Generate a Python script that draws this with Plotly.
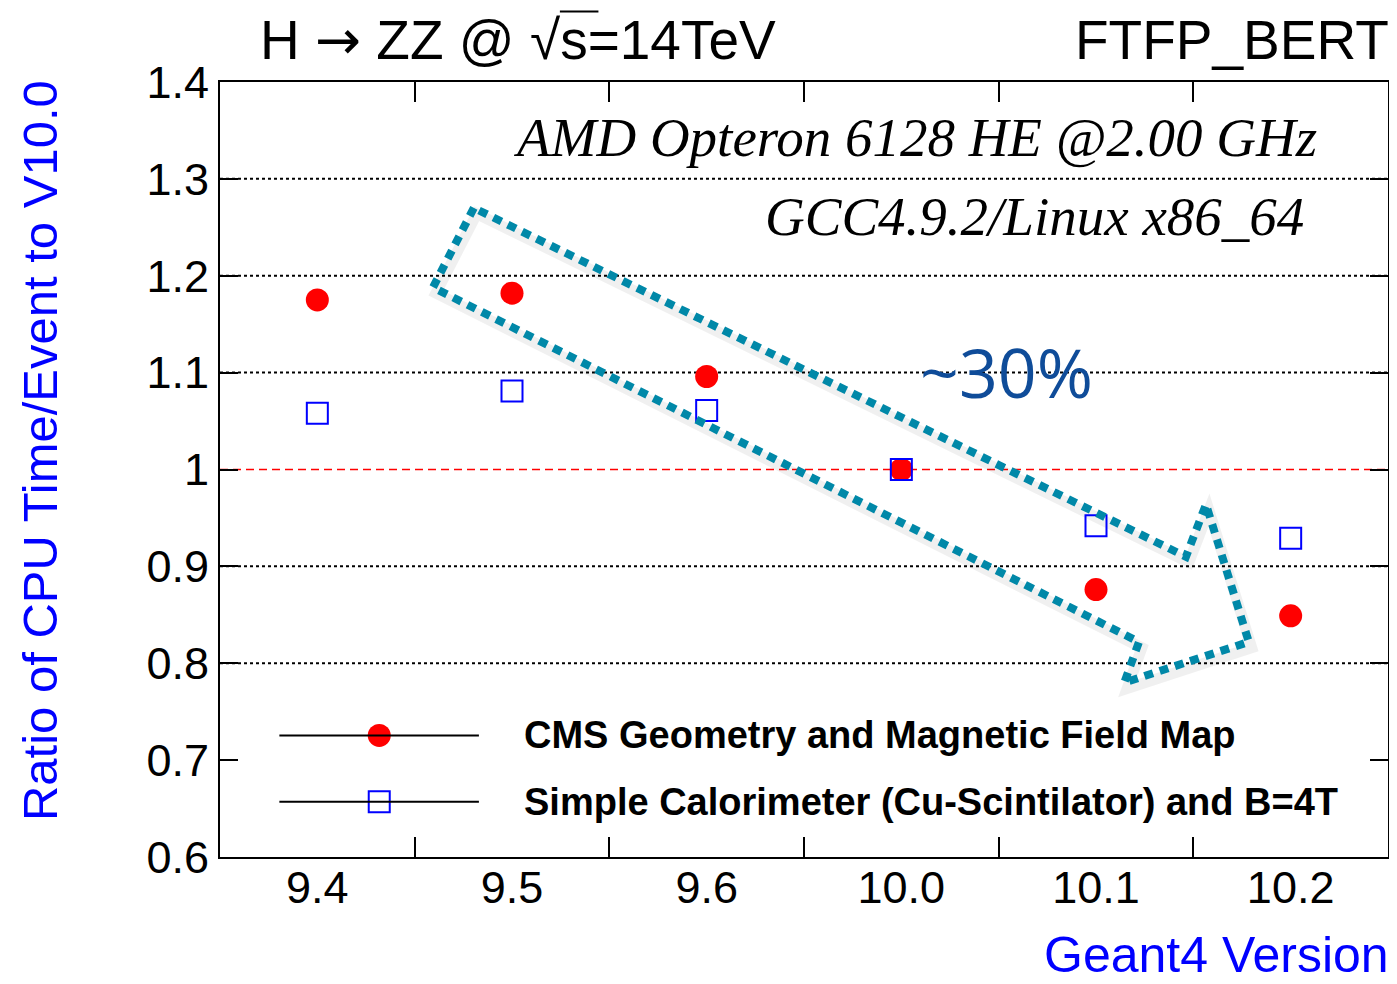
import plotly.graph_objects as go

versions = ["9.4", "9.5", "9.6", "10.0", "10.1", "10.2"]
cms_ratio = [1.175, 1.182, 1.096, 1.000, 0.876, 0.849]
simple_ratio = [1.058, 1.081, 1.061, 1.000, 0.942, 0.929]
y_ticks = [0.6, 0.7, 0.8, 0.9, 1.0, 1.1, 1.2, 1.3, 1.4]
y_tick_text = ["0.6", "0.7", "0.8", "0.9", "1", "1.1", "1.2", "1.3", "1.4"]
grid_levels = [0.8, 0.9, 1.1, 1.2, 1.3]
legend_names = ["CMS Geometry and Magnetic Field Map",
                "Simple Calorimeter (Cu-Scintilator) and B=4T"]

xpos = list(range(len(versions)))
boundaries = [i + 0.5 for i in xpos[:-1]]
SANS = "Liberation Sans, Arial, Helvetica, sans-serif"
SERIF = "Liberation Serif, Times New Roman, serif"

fig = go.Figure()

# Arrow outline (data coords: x in category index, y in ratio)
arrow_x = [0.804, 0.594, 4.221, 4.145, 4.785, 4.565, 4.462]
arrow_y = [1.270, 1.188, 0.822, 0.780, 0.822, 0.964, 0.910]

def path(xs, ys, dx=0.0, dy=0.0):
    p = "M %.4f %.4f " % (xs[0] + dx, ys[0] + dy)
    for a, b in zip(xs[1:], ys[1:]):
        p += "L %.4f %.4f " % (a + dx, b + dy)
    return p + "Z"

shapes = []
# soft shadow
shapes.append(dict(type="path", xref="x", yref="y", path=path(arrow_x, arrow_y, 0.015, -0.006),
                   line=dict(color="rgba(0,0,0,0.06)", width=11), layer="below"))
# gridlines
for g in grid_levels:
    shapes.append(dict(type="line", xref="paper", yref="y", x0=0, x1=1, y0=g, y1=g,
                       line=dict(color="black", width=2, dash="dot"), layer="below"))
shapes.append(dict(type="line", xref="paper", yref="y", x0=0, x1=1, y0=1.0, y1=1.0,
                   line=dict(color="red", width=1.5, dash="8px,5px"), layer="below"))
shapes.append(dict(type="path", xref="x", yref="y", path=path(arrow_x, arrow_y),
                   line=dict(color="#0088A8", width=8, dash="9px,7px")))

# legend lines
leg_y = [0.7255, 0.657]
for ly in leg_y:
    shapes.append(dict(type="line", xref="x", yref="y", x0=-0.195, x1=0.83, y0=ly, y1=ly,
                       line=dict(color="black", width=2)))
# overline of sqrt(s)
shapes.append(dict(type="line", xref="paper", yref="paper", x0=0.291, x1=0.324,
                   y0=1.091, y1=1.091, line=dict(color="black", width=2)))
fig.update_layout(shapes=shapes)

fig.add_trace(go.Scatter(x=xpos, y=cms_ratio, mode="markers", name=legend_names[0],
                         marker=dict(symbol="circle", size=23, color="red", line=dict(width=0))))
fig.add_trace(go.Scatter(x=xpos, y=simple_ratio, mode="markers", name=legend_names[1],
                         marker=dict(symbol="square-open", size=21, color="blue",
                                     line=dict(width=2, color="blue"))))
# legend markers
fig.add_trace(go.Scatter(x=[0.318], y=[leg_y[0]], mode="markers", showlegend=False,
                         marker=dict(symbol="circle", size=23, color="red")))
fig.add_trace(go.Scatter(x=[0.318], y=[leg_y[1]], mode="markers", showlegend=False,
                         marker=dict(symbol="square-open", size=21, color="blue",
                                     line=dict(width=2, color="blue"))))

# x tick labels on overlay axis
fig.add_trace(go.Scatter(x=xpos, y=cms_ratio, xaxis="x2", mode="markers",
                         marker=dict(opacity=0), showlegend=False, hoverinfo="skip"))

annotations = []
for ly, name in zip(leg_y, legend_names):
    annotations.append(dict(x=1.05, y=ly, xref="x", yref="y", text="<b>%s</b>" % name,
                            showarrow=False, xanchor="left", yanchor="middle",
                            font=dict(family=SANS, size=38, color="black")))
annotations += [
    dict(x=0.0325, y=1.054, xref="paper", yref="paper",
         text="H <span style='font-family:DejaVu Sans'>\u2192</span> ZZ @ \u221as=14TeV",
         showarrow=False, xanchor="left", yanchor="middle",
         font=dict(family=SANS, size=55, color="black")),
    dict(x=1.0, y=1.054, xref="paper", yref="paper", text="FTFP_BERT", xshift=3,
         showarrow=False, xanchor="right", yanchor="middle",
         font=dict(family=SANS, size=55, color="black")),
    dict(x=0.941, y=0.928, xref="paper", yref="paper", text="<i>AMD Opteron 6128 HE @2.00 GHz</i>",
         showarrow=False, xanchor="right", yanchor="middle",
         font=dict(family=SERIF, size=55, color="black")),
    dict(x=0.93, y=0.827, xref="paper", yref="paper", text="<i>GCC4.9.2/Linux x86_64</i>",
         showarrow=False, xanchor="right", yanchor="middle",
         font=dict(family=SERIF, size=55, color="black")),
    dict(x=0.673, y=0.626, xref="paper", yref="paper", text="~30%",
         showarrow=False, xanchor="center", yanchor="middle",
         font=dict(family="Open Sans, Noto Sans, sans-serif", size=68, color="#0F4C99")),
    dict(x=1.0, y=-0.1265, xref="paper", yref="paper", text="Geant4 Version", xshift=3,
         showarrow=False, xanchor="right", yanchor="middle",
         font=dict(family=SANS, size=50, color="blue")),
    dict(x=-0.154, y=0.524, xref="paper", yref="paper", text="Ratio of CPU Time/Event to V10.0",
         showarrow=False, xanchor="center", yanchor="middle", textangle=-90,
         font=dict(family=SANS, size=49, color="blue")),
]

# page body adds an 8px offset; figure sized so the plot area lands at 220..1390 x 82..857
fig.update_layout(
    width=1389, height=976,
    margin=dict(l=212, r=7, t=74, b=127),
    paper_bgcolor="white", plot_bgcolor="white",
    showlegend=False,
    annotations=annotations,
    xaxis=dict(range=[-0.5, 5.5], tickmode="array", tickvals=boundaries,
               showgrid=False, zeroline=False, showticklabels=False,
               ticks="inside", ticklen=20, tickwidth=2, tickcolor="black",
               showline=True, linecolor="black", linewidth=2, mirror="ticks"),
    xaxis2=dict(range=[-0.5, 5.5], overlaying="x", side="bottom", anchor="y",
                tickmode="array", tickvals=xpos, ticktext=versions, ticks="",
                showgrid=False, zeroline=False, showline=False,
                tickfont=dict(family=SANS, size=45, color="black")),
    yaxis=dict(range=[0.6, 1.4], tickmode="array", tickvals=y_ticks, ticktext=y_tick_text,
               ticks="inside", ticklen=18, tickwidth=2, tickcolor="black",
               showgrid=False, zeroline=False, showline=True, linecolor="black",
               linewidth=2, mirror="ticks",
               tickfont=dict(family=SANS, size=45, color="black")),
)

fig.write_html("out.html")
